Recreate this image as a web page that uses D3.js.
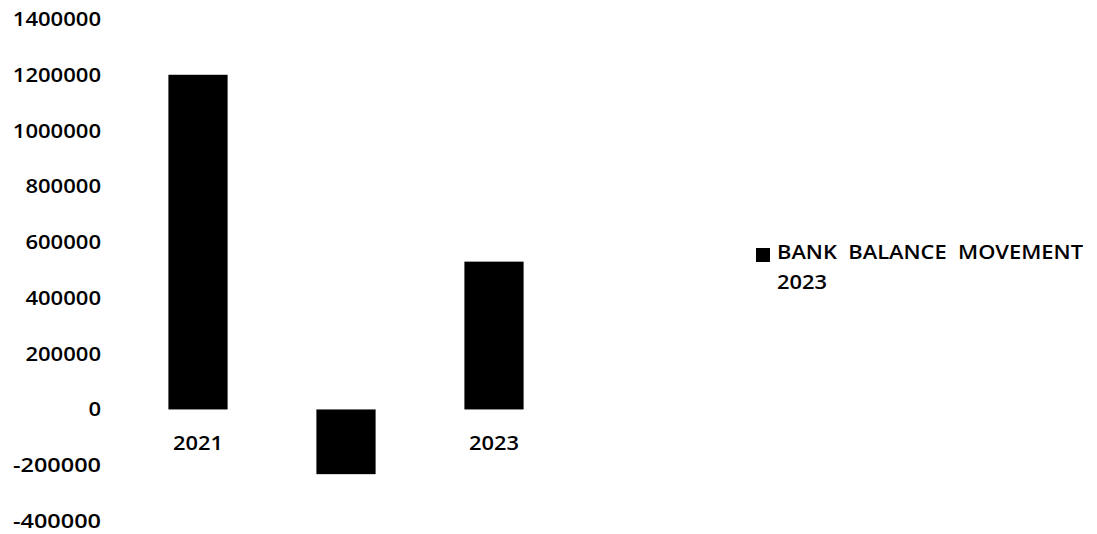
<!DOCTYPE html>
<html>
<head>
<meta charset="utf-8">
<script src="https://cdn.jsdelivr.net/npm/d3@7"></script>
<style>
  body { margin: 0; background: #fff; }
  text { font-family: "Open Sans", sans-serif; fill: #000; font-weight: 600; }
</style>
</head>
<body>
<script>
// chart data
const years = ['2021', '2022', '2023'];
const movement = [1200000, -232000, 530000];
const yTicks = [1400000, 1200000, 1000000, 800000, 600000, 400000, 200000, 0, -200000, -400000];
const seriesName = ['BANK  BALANCE  MOVEMENT', '2023'];

const width = 1097;
const height = 534;

const svg = d3.select('body').append('svg')
  .attr('width', width)
  .attr('height', height);

// scales
const x = d3.scaleBand().domain(years).range([124, 568]).paddingInner(0.6).paddingOuter(0.3);
const y = d3.scaleLinear().domain([-400000, 1400000]).range([521, 19]);

// plain hyphen for negatives, like the original
const fmt = (d) => String(d);

// y axis labels
const yAxis = d3.axisLeft(y).tickValues(yTicks).tickSize(0).tickPadding(0).tickFormat(fmt);
svg.append('g')
  .attr('transform', 'translate(101,0)')
  .call(yAxis)
  .call((g) => g.select('.domain').remove())
  .call((g) => g.selectAll('text')
    .attr('font-size', 19)
    .attr('font-family', '"Open Sans", sans-serif')
    .attr('font-weight', 600)
    .attr('fill', '#000')
    .attr('dy', '0.34em')
    .attr('textLength', (d) => d < 0 ? 88 : String(d).length * 12.6)
    .attr('lengthAdjust', 'spacingAndGlyphs'));

// category labels (the 2022 one sits behind its bar)
svg.append('g').selectAll('text')
  .data(years)
  .join('text')
  .attr('x', (d) => x(d) + x.bandwidth() / 2)
  .attr('y', y(0) + 41)
  .attr('text-anchor', 'middle')
  .attr('font-size', 19)
  .attr('textLength', 50)
  .attr('lengthAdjust', 'spacingAndGlyphs')
  .text((d) => d);

// bars
svg.append('g').selectAll('rect')
  .data(movement)
  .join('rect')
  .attr('x', (d, i) => x(years[i]))
  .attr('width', x.bandwidth())
  .attr('y', (d) => y(Math.max(0, d)))
  .attr('height', (d) => Math.abs(y(d) - y(0)))
  .attr('fill', '#000');

// legend
const legend = svg.append('g').attr('transform', 'translate(756,248)');
legend.append('rect').attr('width', 14).attr('height', 14).attr('fill', '#000');
legend.selectAll('text')
  .data(seriesName)
  .join('text')
  .attr('x', 21)
  .attr('y', (d, i) => 11 + i * 30)
  .attr('font-size', 19)
  .attr('textLength', (d, i) => i === 0 ? 306 : 50)
  .attr('lengthAdjust', 'spacingAndGlyphs')
  .attr('xml:space', 'preserve')
  .style('white-space', 'pre')
  .text((d) => d);
</script>
</body>
</html>
